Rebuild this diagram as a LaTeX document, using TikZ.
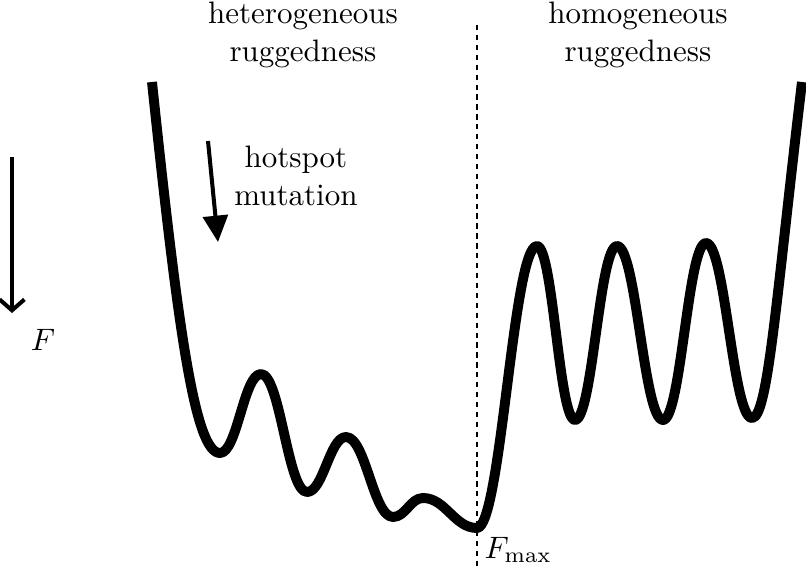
\documentclass[tikz,border=0pt]{standalone}
\usetikzlibrary{arrows.meta}
\begin{document}
\begin{tikzpicture}[x=0.3226pt,y=-0.3226pt,
  landscape/.style={line width=3.2pt,line join=round,line cap=butt},
  label/.style={align=center,inner sep=0pt},
  guide/.style={line width=0.7pt,dash pattern=on 1.7pt off 1.5pt}]
\useasboundingbox (0,0) rectangle (806,570);
% dashed separator
\coordinate (dtop) at (477,25);
\coordinate (dbot) at (477,570);
\draw[guide] (dtop) -- (dbot);
% landscape curve
\draw[landscape] (152,82)
  .. controls (178,330) and (195,453) .. (220,453)
  .. controls (237.2,453) and (243.8,374) .. (261,374)
  .. controls (280.3,374) and (287.7,492) .. (307,492)
  .. controls (323.4,492) and (329.6,437) .. (346,437)
  .. controls (365.7,437) and (373.3,517) .. (393,517)
  .. controls (405.6,517) and (410.4,498) .. (423,498)
  .. controls (445.7,498) and (454.3,528) .. (477,528)
  .. controls (501,528) and (513,246) .. (537,246)
  .. controls (553,246) and (559,420) .. (575,420)
  .. controls (592.6,420) and (599.4,246) .. (617,246)
  .. controls (636.3,246) and (643.7,420) .. (663,420)
  .. controls (681,420) and (688,243) .. (706,243)
  .. controls (725.3,243) and (732.7,418) .. (752,418)
  .. controls (768,418) and (776,300) .. (802,82);
% texts
\node[label] (het) at (303,35) {heterogeneous\\ruggedness};
\node[label] (hom) at (638,35) {homogeneous\\ruggedness};
\node[label] (hot) at (296,176) {hotspot\\mutation};
\node[label] (F) at (43,340) {$F$};
\node[label,anchor=west] (Fmax) at (484,550) {$F_{\max}$};
% arrows
\coordinate (ha) at (208,141);
\coordinate (hb) at (218,242);
\draw[line width=1.3pt,-{Triangle[length=8.5pt,width=8pt]}] (ha) -- (hb);
\coordinate (fa) at (12,157);
\coordinate (fb) at (12,313);
\draw[line width=1.3pt,-{Straight Barb[length=3.5pt,width=8pt]}] (fa) -- (fb);
\end{tikzpicture}
\end{document}
